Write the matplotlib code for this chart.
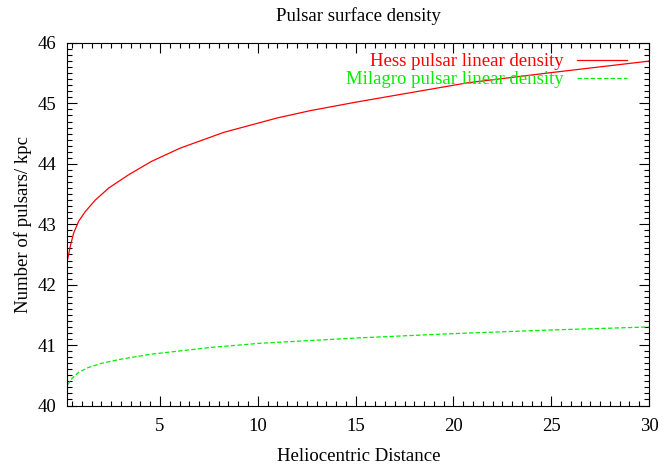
import matplotlib
matplotlib.use("Agg")
import matplotlib.pyplot as plt
from matplotlib.ticker import MultipleLocator

plt.rcParams['font.family'] = ['Liberation Serif', 'DejaVu Serif']

# values
hess_x = [0.27, 0.41, 0.58, 0.84, 1.18, 1.69, 2.38, 3.40, 4.56, 6.03, 8.25,
          11.0, 12.68, 15.0, 20.7, 25.0, 30.0]
hess_y = [42.41, 42.63, 42.85, 43.05, 43.21, 43.40, 43.60, 43.82, 44.04, 44.26, 44.52,
          44.76, 44.88, 45.02, 45.34, 45.51, 45.70]

milagro_x = [0.27, 0.50, 0.84, 1.35, 2.03, 3.06, 4.56, 7.56, 10.12, 15.2, 20.0, 25.0, 30.0]
milagro_y = [40.34, 40.45, 40.55, 40.63, 40.70, 40.77, 40.85, 40.96, 41.03, 41.12, 41.19,
             41.25, 41.30]

fig = plt.figure(figsize=(6.65, 4.74), dpi=100)
ax = fig.add_axes([0.1015, 0.1445, 0.8745, 0.7648])

ax.plot(hess_x, hess_y, color='#ff0000', lw=0.9, label='Hess pulsar linear density')
ax.plot(milagro_x, milagro_y, color='#00ee00', lw=0.9, dashes=(3.5, 1.8),
        label='Milagro pulsar linear density')

ax.set_xlim(0.27, 30)
ax.set_ylim(40, 46)
ax.xaxis.set_major_locator(MultipleLocator(5))
ax.xaxis.set_minor_locator(MultipleLocator(0.5))
ax.yaxis.set_major_locator(MultipleLocator(1))
ax.yaxis.set_minor_locator(MultipleLocator(0.1))
ax.tick_params(which='both', direction='in', top=True, right=True, labelsize=13.5, width=0.8)
ax.tick_params(which='major', length=7)
ax.tick_params(which='minor', length=3.5)
ax.tick_params(axis='x', which='major', pad=9)
ax.tick_params(axis='y', which='major', pad=8)
for s in ax.spines.values():
    s.set_linewidth(0.8)

ax.set_title('Pulsar surface density', fontsize=13.5, pad=16)
ax.set_xlabel('Heliocentric Distance', fontsize=13.5, labelpad=9)
ax.set_ylabel('Number of pulsars/ kpc', fontsize=13.5, labelpad=4)

leg = fig.legend(loc='upper right', bbox_to_anchor=(627 / 665, 1 - 53 / 474), frameon=False,
                 fontsize=13.5, markerfirst=False, handlelength=2.67, handletextpad=0.7,
                 labelspacing=0.05, borderpad=0, borderaxespad=0)
for txt, line in zip(leg.get_texts(), leg.get_lines()):
    txt.set_color(line.get_color())

fig.savefig('out.png', dpi=100)
